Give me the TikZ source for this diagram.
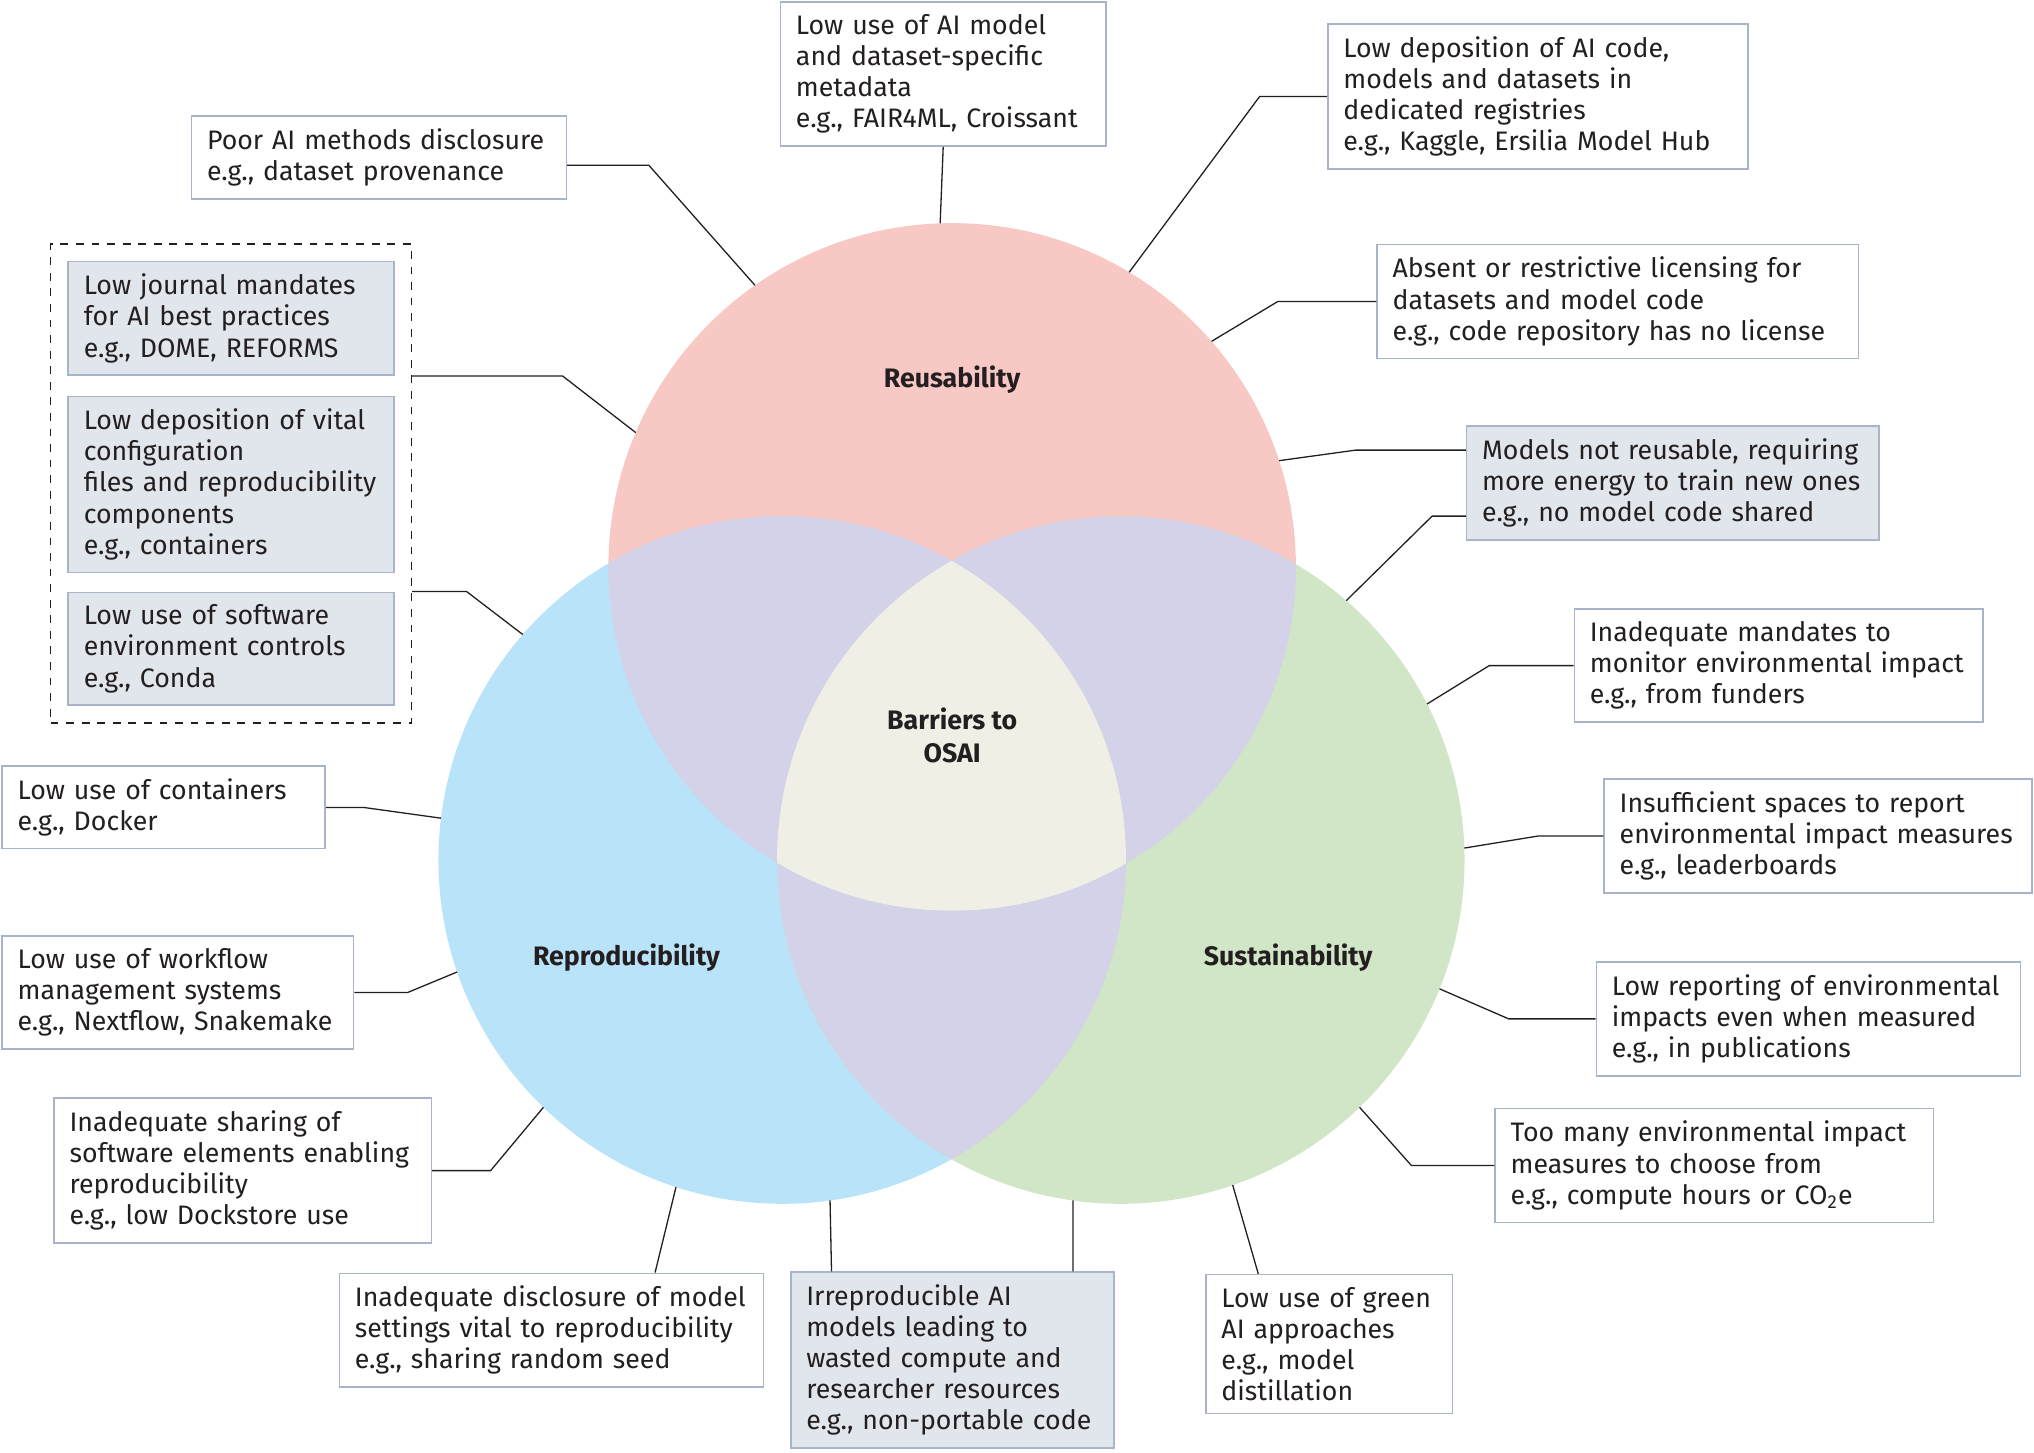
\documentclass[tikz,border=0pt]{standalone}
\usepackage{fontspec}
\setmainfont{Fira Sans}
\usetikzlibrary{fit}
\definecolor{reucol}{HTML}{F8C8C4}
\definecolor{repcol}{HTML}{B8E3F8}
\definecolor{suscol}{HTML}{D0E6C6}
\definecolor{lavcol}{HTML}{D3D2E8}
\definecolor{midcol}{HTML}{EFEFE6}
\definecolor{boxline}{HTML}{A9B4CA}
\definecolor{boxfill}{HTML}{E1E5EC}
\definecolor{ink}{HTML}{231F20}
\tikzset{
  venn/.style={circle, minimum size=265pt, inner sep=0pt, outer sep=0pt},
  note/.style={draw=boxline, line width=0.6pt, fill=white, anchor=north west, align=left,
    inner xsep=6pt, inner ysep=4.8pt, text width=#1, text=ink, font=\fontsize{10.3}{12}\selectfont},
  grey/.style={note=#1, fill=boxfill},
  lead/.style={draw=ink, line width=0.5pt},
  title/.style={align=center, text=ink, font=\fontsize{10.3}{12.5}\selectfont\bfseries}
}

\begin{document}
\begin{tikzpicture}[x=0.5pt, y=-0.5pt]
  \useasboundingbox (0,0) rectangle (1568,1120);
  % circles
  \node[venn, fill=reucol] (reu) at (734,437) {};
  \node[venn, fill=repcol] (rep) at (603,663) {};
  \node[venn, fill=suscol] (sus) at (864,663) {};
  \begin{scope}
    \clip (reu.center) circle[radius=132.5pt];
    \fill[lavcol] (rep.center) circle[radius=132.5pt];
    \fill[lavcol] (sus.center) circle[radius=132.5pt];
  \end{scope}
  \begin{scope}
    \clip (rep.center) circle[radius=132.5pt];
    \fill[lavcol] (sus.center) circle[radius=132.5pt];
  \end{scope}
  \begin{scope}
    \clip (reu.center) circle[radius=132.5pt];
    \clip (rep.center) circle[radius=132.5pt];
    \fill[midcol] (sus.center) circle[radius=132.5pt];
  \end{scope}
  \node[title] (reut) at (734,293) {Reusability};
  \node[title] (rept) at (483,738) {Reproducibility};
  \node[title] (sust) at (993,738) {Sustainability};
  \node[title] (osai) at (734,567) {Barriers to\\OSAI};
  % boxes, top
  \node[note=132.5pt] (dis) at (147,89) {Poor AI methods disclosure\\e.g., dataset provenance};
  \node[note=113.5pt] (meta) at (601,1) {Low use of AI model\\and dataset-specific\\metadata\\e.g., FAIR4ML, Croissant};
  \node[note=150pt] (regi) at (1023,18) {Low deposition of AI code,\\models and datasets in\\dedicated registries\\e.g., Kaggle, Ersilia Model Hub};
  % boxes, right
  \node[note=173.5pt] (lic) at (1061,188) {Absent or restrictive licensing for\\datasets and model code\\e.g., code repository has no license};
  \node[grey=147pt] (energy) at (1130,328) {Models not reusable, requiring\\more energy to train new ones\\e.g., no model code shared};
  \node[note=145.5pt] (fund) at (1213,469) {Inadequate mandates to\\monitor environmental impact\\e.g., from funders};
  \node[note=153pt] (space) at (1236,600) {Insufficient spaces to report\\environmental impact measures\\e.g., leaderboards};
  \node[note=151.5pt] (report) at (1230,741) {Low reporting of environmental\\impacts even when measured\\e.g., in publications};
  \node[note=157pt] (many) at (1152,854) {Too many environmental impact\\measures to choose from\\e.g., compute hours or CO\textsubscript{2}e};
  % boxes, bottom
  \node[note=83pt] (green) at (929,982) {Low use of green\\AI approaches\\e.g., model\\distillation};
  \node[grey=112.5pt] (waste) at (609,980) {Irreproducible AI\\models leading to\\wasted compute and\\researcher resources\\e.g., non-portable code};
  \node[note=151.5pt] (seed) at (261,981) {Inadequate disclosure of model\\settings vital to reproducibility\\e.g., sharing random seed};
  % boxes, left
  \node[note=133.5pt] (dock) at (41,846) {Inadequate sharing of\\software elements enabling\\reproducibility\\e.g., low Dockstore use};
  \node[note=123.5pt] (flow) at (1,721) {Low use of workflow\\management systems\\e.g., Nextflow, Snakemake};
  \node[note=112.5pt] (cont) at (1,590) {Low use of containers\\e.g., Docker};
  \node[grey=113.5pt] (j1) at (52,201) {Low journal mandates\\for AI best practices\\e.g., DOME, REFORMS};
  \node[grey=113.5pt] (j2) at (52,305) {Low deposition of vital\\configuration\\files and reproducibility\\components\\e.g., containers};
  \node[grey=113.5pt] (j3) at (52,456) {Low use of software\\environment controls\\e.g., Conda};
  \node[draw=ink, dashed, line width=0.5pt, inner sep=6.5pt, fit=(j1)(j2)(j3)] (grp) {};
  % leaders
  \draw[lead] ([yshift=-3pt]dis.east) -- ++(63,0) -- (reu.125);
  \draw[lead] (meta.south) -- (reu.92);
  \draw[lead] (regi.west) -- ++(-52,0) -- (reu.59);
  \draw[lead] (lic.west) -- ++(-76,0) -- (reu.41);
  \draw[lead] ([yshift=-9.5pt]energy.north west) -- ++(-85,0) -- (reu.18);
  \draw[lead] ([yshift=9.5pt]energy.south west) -- ++(-26,0) -- (sus.49);
  \draw[lead] (fund.west) -- ++(-65,0) -- (sus.27.5);
  \draw[lead] (space.west) -- ++(-50,0) -- (sus.2.4);
  \draw[lead] (report.west) -- ++(-67,0) -- (sus.-22.3);
  \draw[lead] (many.west) -- ++(-64,0) -- (sus.-46);
  \draw[lead] ([xshift=20.5pt]green.north west) -- (sus.-71.4);
  \draw[lead] ([xshift=-16pt]waste.north east) -- (sus.-98.2);
  \draw[lead] ([xshift=16pt]waste.north west) -- (rep.278);
  \draw[lead] ([xshift=122pt]seed.north west) -- (rep.252.7);
  \draw[lead] (dock.east) -- ++(45,0) -- (rep.226);
  \draw[lead] (flow.east) -- ++(41,0) -- (rep.199.6);
  \draw[lead] (cont.east) -- ++(29,0) -- (rep.173);
  \draw[lead] (grp.east |- j1.south) -- ++(116,0) -- (reu.157);
  \draw[lead] (grp.east |- j3.north) -- ++(42,0) -- (rep.139.7);
\end{tikzpicture}
\end{document}
